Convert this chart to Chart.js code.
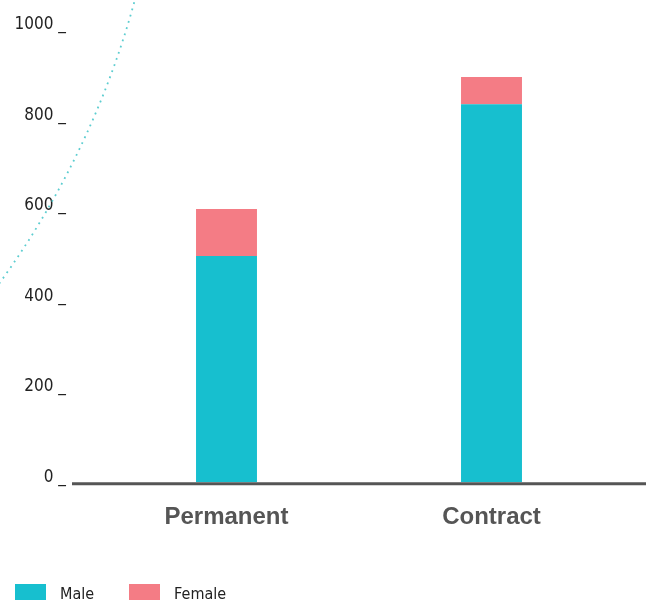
<!DOCTYPE html>
<html>
<head>
<meta charset="utf-8">
<script src="https://cdn.jsdelivr.net/npm/chart.js@4"></script>
<style>
  html, body { margin: 0; padding: 0; background: #fff; overflow: hidden; }
  #wrap { position: relative; width: 654px; height: 600px; }
  #legend { position: absolute; left: 15px; top: 584px; display: flex; font-family: "Liberation Sans Narrow", "DejaVu Sans Condensed", sans-serif; font-size: 16px; color: #222; }
  .item { display: flex; align-items: flex-start; margin-right: 35px; }
  .box { width: 31px; height: 18px; margin-right: 14px; }
</style>
</head>
<body>
<div id="wrap">
  <canvas id="chart" width="654" height="600"></canvas>
  <div id="legend"></div>
</div>
<script>
// values
const categories = ["Permanent", "Contract"];
const maleValues = [500, 836];
const femaleValues = [104, 60];
const yMin = 0;
const yMax = 1000;
const yStep = 200;

const MALE_COLOR = "#17bfcf";
const FEMALE_COLOR = "#f47c85";

// dotted arc in the upper-left corner + extended baseline
const decorations = {
  id: "decorations",
  beforeDatasetsDraw(chart) {
    const ctx = chart.ctx;
    ctx.save();
    ctx.strokeStyle = "#5ccdd0";
    ctx.lineWidth = 1.8;
    ctx.setLineDash([1.8, 4.7]);
    ctx.beginPath();
    ctx.arc(-704, -227, 869, 0.05, 0.85);
    ctx.stroke();
    ctx.restore();
  },
  afterDatasetsDraw(chart) {
    const { ctx, chartArea } = chart;
    ctx.save();
    ctx.strokeStyle = "#555";
    ctx.lineWidth = 3;
    ctx.beginPath();
    ctx.moveTo(chartArea.left - 22, chartArea.bottom + 1.5);
    ctx.lineTo(chartArea.right + 22, chartArea.bottom + 1.5);
    ctx.stroke();
    ctx.restore();
  }
};

const chart = new Chart(document.getElementById("chart"), {
  type: "bar",
  data: {
    labels: categories,
    datasets: [
      { label: "Male", data: maleValues, backgroundColor: MALE_COLOR },
      { label: "Female", data: femaleValues, backgroundColor: FEMALE_COLOR },
    ],
  },
  options: {
    responsive: false,
    animation: false,
    layout: { padding: { left: 0, right: 30, top: 30, bottom: 47 } },
    datasets: { bar: { categoryPercentage: 1, barPercentage: 0.23, borderWidth: 0 } },
    plugins: {
      legend: { display: false },
      tooltip: { enabled: false },
    },
    scales: {
      x: {
        stacked: true,
        grid: { display: false, drawTicks: false },
        border: { display: false },
        ticks: {
          padding: 21,
          color: "#555",
          font: { family: "'Liberation Sans', Arial, sans-serif", size: 24, weight: "bold" },
        },
      },
      y: {
        stacked: true,
        min: yMin,
        max: yMax,
        grid: { display: false, drawTicks: false },
        border: { display: false },
        afterFit(scale) {
          scale.width = 94;
          scale.paddingTop = 0;
          scale.paddingBottom = 0;
        },
        ticks: {
          stepSize: yStep,
          padding: 28,
          labelOffset: -5,
          color: "#222",
          font: { family: "'Liberation Sans Narrow', 'DejaVu Sans Condensed', sans-serif", size: 17 },
          callback: v => v + " _",
        },
      },
    },
  },
  plugins: [decorations],
});

// html legend built from the chart's datasets
document.getElementById("legend").innerHTML = chart.data.datasets
  .map(ds => `<div class="item"><div class="box" style="background:${ds.backgroundColor}"></div><span>${ds.label}</span></div>`)
  .join("");
</script>
</body>
</html>
